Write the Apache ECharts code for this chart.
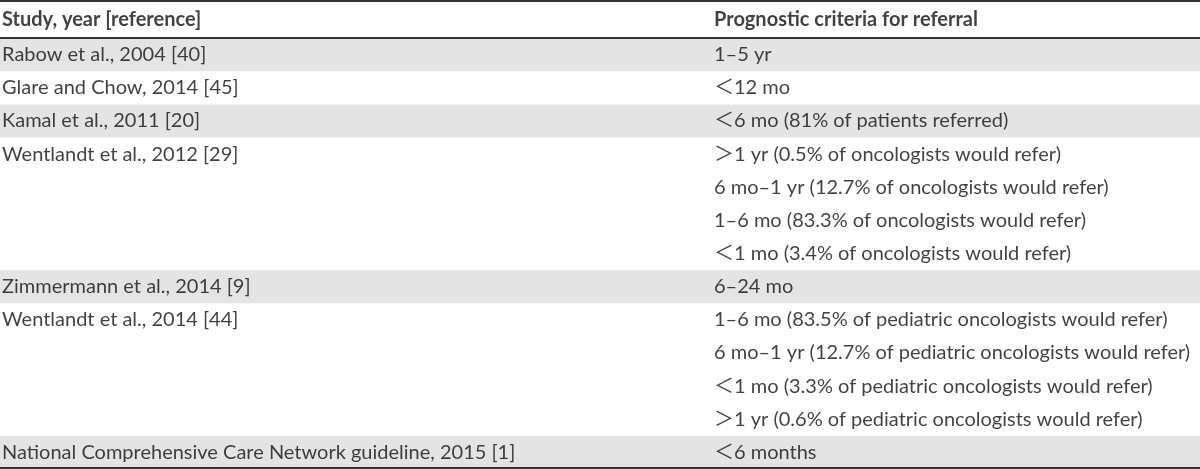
<!DOCTYPE html>
<html>
<head>
<meta charset="utf-8">
<script src="https://cdn.jsdelivr.net/npm/echarts@6/dist/echarts.min.js"></script>
<style>
  html, body { margin: 0; padding: 0; background: #fff; }
  #main { width: 1200px; height: 469px; }
</style>
</head>
<body>
<div id="main"></div>
<script>
// table content
var headers = ['Study, year [reference]', 'Prognostic criteria for referral'];
var studies = [
  'Rabow et al., 2004 [40]',
  'Glare and Chow, 2014 [45]',
  'Kamal et al., 2011 [20]',
  'Wentlandt et al., 2012 [29]',
  'Zimmermann et al., 2014 [9]',
  'Wentlandt et al., 2014 [44]',
  'National Comprehensive Care Network guideline, 2015 [1]'
];
var criteria = [
  ['1–5 yr'],
  ['＜12 mo'],
  ['＜6 mo (81% of patients referred)'],
  ['＞1 yr (0.5% of oncologists would refer)',
   '6 mo–1 yr (12.7% of oncologists would refer)',
   '1–6 mo (83.3% of oncologists would refer)',
   '＜1 mo (3.4% of oncologists would refer)'],
  ['6–24 mo'],
  ['1–6 mo (83.5% of pediatric oncologists would refer)',
   '6 mo–1 yr (12.7% of pediatric oncologists would refer)',
   '＜1 mo (3.3% of pediatric oncologists would refer)',
   '＞1 yr (0.6% of pediatric oncologists would refer)'],
  ['＜6 months']
];

var COL1 = 2, COL2 = 714, HEAD = -1.15;

var textPts = [];
var headPts = [
  { value: [COL1, HEAD / 2], name: headers[0] },
  { value: [COL2, HEAD / 2], name: headers[1] }
];
var shaded = [];
var row = 0;
studies.forEach(function (s, i) {
  textPts.push({ value: [COL1, row + 0.5], name: s });
  criteria[i].forEach(function (c, j) {
    textPts.push({ value: [COL2, row + j + 0.5], name: c });
  });
  if (i % 2 === 0) {
    shaded.push([{ xAxis: 0, yAxis: row }, { xAxis: 1200, yAxis: row + criteria[i].length }]);
  }
  row += criteria[i].length;
});

var font = 'Lato, "Noto Sans CJK SC"';
var chart = echarts.init(document.getElementById('main'));
chart.setOption({
  animation: false,
  grid: { left: 0, right: 0, top: 0, bottom: 0 },
  xAxis: { type: 'value', min: 0, max: 1200, show: false },
  yAxis: { type: 'value', min: HEAD, max: row, inverse: true, show: false },
  series: [
    {
      type: 'scatter',
      symbolSize: 0,
      silent: true,
      data: textPts,
      z: 3,
      label: {
        show: true, position: 'right', distance: 0,
        formatter: '{b}', color: '#111', fontFamily: font, fontSize: 20
      },
      markArea: {
        silent: true,
        itemStyle: { color: '#e4e4e4' },
        data: shaded
      },
      markLine: {
        silent: true,
        symbol: 'none',
        label: { show: false },
        lineStyle: { color: '#333', width: 2, type: 'solid' },
        data: [{ yAxis: HEAD + 0.03 }, { yAxis: 0 }, { yAxis: row - 0.03 }]
      }
    },
    {
      type: 'scatter',
      symbolSize: 0,
      silent: true,
      data: headPts,
      z: 3,
      label: {
        show: true, position: 'right', distance: 0,
        formatter: '{b}', color: '#111', fontFamily: font, fontSize: 20, fontWeight: 'bold'
      }
    }
  ]
});
</script>
</body>
</html>
